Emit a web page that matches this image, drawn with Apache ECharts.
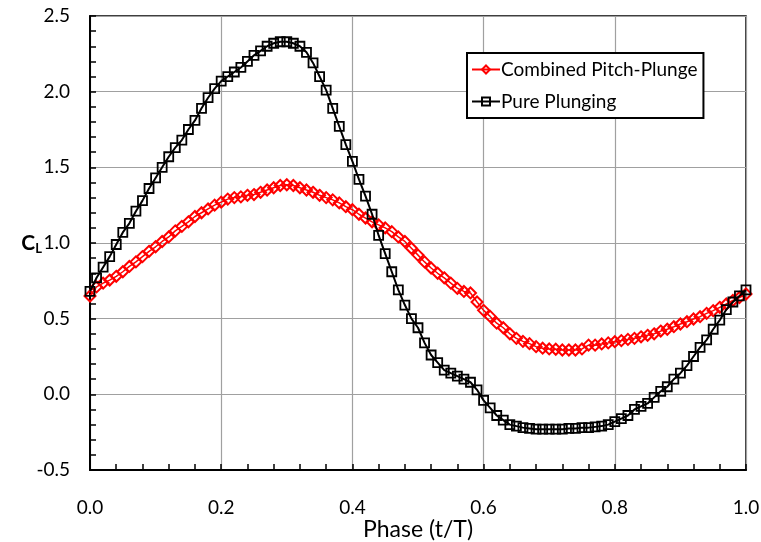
<!DOCTYPE html>
<html>
<head>
<meta charset="utf-8">
<script src="https://cdn.jsdelivr.net/npm/echarts@6/dist/echarts.min.js"></script>
<style>
  html, body { margin: 0; padding: 0; background: #fff; }
  #chart { width: 761px; height: 542px; }
</style>
</head>
<body>
<div id="chart"></div>
<script>
    // phase samples (t/T)
    let phase = [
        0.00, 0.01, 0.02, 0.03, 0.04, 0.05, 0.06, 0.07, 0.08, 0.09,
        0.10, 0.11, 0.12, 0.13, 0.14, 0.15, 0.16, 0.17, 0.18, 0.19,
        0.20, 0.21, 0.22, 0.23, 0.24, 0.25, 0.26, 0.27, 0.28, 0.29,
        0.30, 0.31, 0.32, 0.33, 0.34, 0.35, 0.36, 0.37, 0.38, 0.39,
        0.40, 0.41, 0.42, 0.43, 0.44, 0.45, 0.46, 0.47, 0.48, 0.49,
        0.50, 0.51, 0.52, 0.53, 0.54, 0.55, 0.56, 0.57, 0.58, 0.59,
        0.60, 0.61, 0.62, 0.63, 0.64, 0.65, 0.66, 0.67, 0.68, 0.69,
        0.70, 0.71, 0.72, 0.73, 0.74, 0.75, 0.76, 0.77, 0.78, 0.79,
        0.80, 0.81, 0.82, 0.83, 0.84, 0.85, 0.86, 0.87, 0.88, 0.89,
        0.90, 0.91, 0.92, 0.93, 0.94, 0.95, 0.96, 0.97, 0.98, 0.99,
        1.00
    ];

    // Combined Pitch-Plunge
    let combined = [
        0.65, 0.71, 0.735, 0.755, 0.78, 0.81, 0.845, 0.875, 0.91, 0.945,
        0.975, 1.01, 1.04, 1.08, 1.11, 1.14, 1.175, 1.20, 1.225, 1.25,
        1.27, 1.29, 1.30, 1.305, 1.315, 1.32, 1.335, 1.35, 1.365, 1.38,
        1.385, 1.38, 1.365, 1.35, 1.335, 1.315, 1.30, 1.285, 1.265, 1.24,
        1.22, 1.19, 1.165, 1.14, 1.12, 1.10, 1.075, 1.04, 1.01, 0.965,
        0.92, 0.875, 0.835, 0.80, 0.77, 0.735, 0.70, 0.68, 0.67, 0.61,
        0.555, 0.515, 0.47, 0.44, 0.40, 0.37, 0.35, 0.335, 0.315, 0.305,
        0.30, 0.298, 0.293, 0.293, 0.293, 0.30, 0.325, 0.325, 0.333, 0.34,
        0.348, 0.355, 0.363, 0.37, 0.38, 0.39, 0.40, 0.418, 0.43, 0.447,
        0.465, 0.48, 0.498, 0.513, 0.535, 0.553, 0.575, 0.597, 0.62, 0.64,
        0.663
    ];

    // Pure Plunging
    let plunging = [
        0.68, 0.77, 0.84, 0.91, 0.99, 1.07, 1.13, 1.21, 1.28, 1.36,
        1.43, 1.50, 1.57, 1.63, 1.68, 1.75, 1.81, 1.89, 1.96, 2.02,
        2.07, 2.10, 2.13, 2.16, 2.20, 2.24, 2.27, 2.30, 2.32, 2.33,
        2.33, 2.32, 2.30, 2.26, 2.19, 2.10, 2.01, 1.89, 1.77, 1.65,
        1.54, 1.42, 1.31, 1.19, 1.05, 0.93, 0.81, 0.69, 0.59, 0.50,
        0.44, 0.34, 0.26, 0.21, 0.16, 0.14, 0.12, 0.10, 0.08, 0.03,
        -0.04, -0.09, -0.14, -0.17, -0.20, -0.21, -0.22, -0.225, -0.23, -0.23,
        -0.23, -0.23, -0.23, -0.225, -0.225, -0.22, -0.22, -0.215, -0.21, -0.20,
        -0.18, -0.16, -0.14, -0.10, -0.08, -0.06, -0.02, 0.02, 0.05, 0.10,
        0.14, 0.19, 0.25, 0.31, 0.36, 0.43, 0.49, 0.56, 0.61, 0.65,
        0.69
    ];

    let seriesNames = ['Combined Pitch-Plunge', 'Pure Plunging'];

    let font = 'Lato, "Open Sans", sans-serif';

    function pairs(values){
        return values.map(function(v, i){ return [phase[i], v]; });
    }

    let chart = echarts.init(document.getElementById('chart'));

    chart.setOption({
        animation: false,
        textStyle: { fontFamily: font },
        grid: {
            left: 90, top: 16, right: 15, bottom: 72,
            outerBoundsMode: 'none',
            containLabel: false,
            show: true, borderColor: '#000', borderWidth: 1.5,
            backgroundColor: '#fff'
        },
        legend: {
            data: seriesNames,
            orient: 'vertical',
            left: 467, top: 53,
            backgroundColor: '#fff',
            borderColor: '#000', borderWidth: 2,
            padding: [7, 6, 7, 4],
            itemWidth: 28, itemHeight: 10, itemGap: 13,
            textStyle: { fontFamily: font, fontSize: 19, color: '#000', padding: [0, 0, 0, -4] }
        },
        xAxis: {
            type: 'value',
            min: 0, max: 1, interval: 0.2,
            name: 'Phase (t/T)',
            nameLocation: 'middle',
            nameGap: 48,
            nameMoveOverlap: false,
            nameTextStyle: { fontSize: 23, color: '#000', fontFamily: font },
            axisLine: { onZero: false, lineStyle: { color: '#000', width: 2 } },
            axisTick: { inside: true, length: 6, lineStyle: { color: '#000', width: 1.5 } },
            minorTick: { show: true, splitNumber: 5, length: 6, lineStyle: { color: '#000', width: 1.5 } },
            axisLabel: {
                margin: 28, fontSize: 19, color: '#000',
                formatter: function(v){ return v.toFixed(1); }
            },
            splitLine: { lineStyle: { color: '#a0a0a0', width: 1.2 } }
        },
        yAxis: {
            type: 'value',
            min: -0.5, max: 2.5, interval: 0.5,
            name: '{c|C}{l|L}',
            nameLocation: 'middle',
            nameRotate: 0,
            nameGap: 48,
            nameMoveOverlap: false,
            nameTextStyle: {
                rich: {
                    c: { fontSize: 21, fontWeight: 'bold', color: '#000', fontFamily: font },
                    l: { fontSize: 13, fontWeight: 'bold', color: '#000', fontFamily: font, padding: [12, 0, 0, 0] }
                }
            },
            axisLine: { onZero: false, lineStyle: { color: '#000', width: 2 } },
            axisTick: { inside: true, length: 6, lineStyle: { color: '#000', width: 1.5 } },
            minorTick: { show: true, splitNumber: 5, length: 6, lineStyle: { color: '#000', width: 1.5 } },
            axisLabel: {
                margin: 20, fontSize: 19, color: '#000',
                formatter: function(v){ return v.toFixed(1); }
            },
            splitLine: { lineStyle: { color: '#a0a0a0', width: 1.2 } }
        },
        series: [
            {
                name: seriesNames[0],
                type: 'line',
                data: pairs(combined),
                symbol: 'diamond',
                symbolSize: 11,
                showAllSymbol: true,
                lineStyle: { color: '#ff0000', width: 1.5 },
                itemStyle: { color: 'rgba(255,255,255,0)', borderColor: '#ff0000', borderWidth: 2 },
                z: 2
            },
            {
                name: seriesNames[1],
                type: 'line',
                data: pairs(plunging),
                symbol: 'rect',
                symbolSize: 9,
                showAllSymbol: true,
                lineStyle: { color: '#000', width: 2 },
                itemStyle: { color: 'rgba(255,255,255,0)', borderColor: '#000', borderWidth: 1.8 },
                z: 3
            }
        ]
    });
</script>
</body>
</html>
